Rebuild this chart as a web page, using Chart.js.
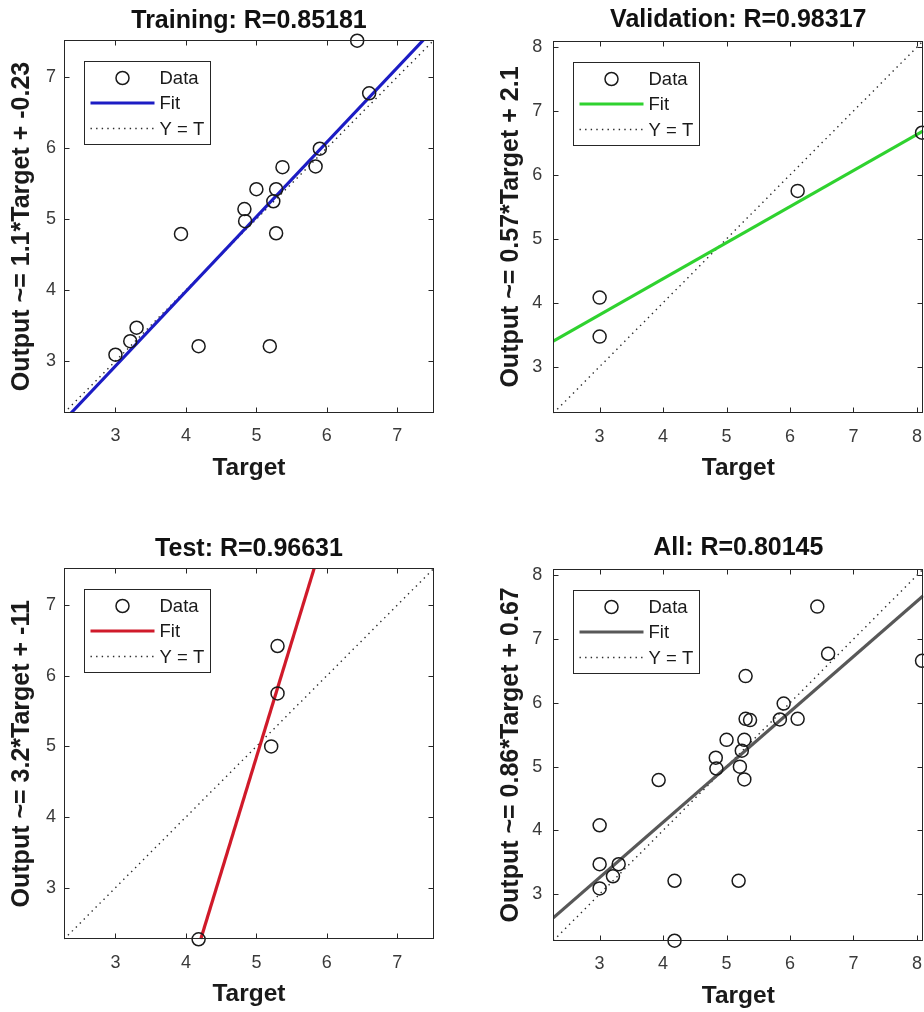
<!DOCTYPE html>
<html>
<head>
<meta charset="utf-8">
<script src="https://cdn.jsdelivr.net/npm/chart.js@4.4.1/dist/chart.umd.min.js"></script>
<style>
html,body{margin:0;padding:0;background:#fff;overflow:hidden;width:924px;height:1012px;}
canvas{position:absolute;}
</style>
</head>
<body>
<canvas id="c0" width="462" height="500" style="left:0px;top:0px"></canvas>
<canvas id="c1" width="480" height="500" style="left:462px;top:0px"></canvas>
<canvas id="c2" width="462" height="512" style="left:0px;top:500px"></canvas>
<canvas id="c3" width="480" height="512" style="left:462px;top:500px"></canvas>
<script>
// ---------------- DATA ----------------
const trainTarget = [6.43, 6.60, 5.90, 5.84, 5.37, 5.00, 5.28, 5.24, 4.83, 4.84, 5.28, 3.93, 3.30, 3.21, 3.00, 4.18, 5.19];
const trainOutput = [7.51, 6.77, 5.99, 5.74, 5.73, 5.42, 5.42, 5.25, 5.14, 4.97, 4.80, 4.79, 3.47, 3.28, 3.09, 3.21, 3.21];
const valTarget   = [3.00, 3.00, 6.12, 8.08];
const valOutput   = [4.08, 3.47, 5.75, 6.66];
const testTarget  = [5.30, 5.30, 5.21, 4.18];
const testOutput  = [6.42, 5.75, 5.00, 2.27];
const allTarget   = trainTarget.concat(valTarget, testTarget);
const allOutput   = trainOutput.concat(valOutput, testOutput);

// fit line end points
const trainFitT = [2.37, 7.37], trainFitO = [2.27, 7.52];
const valFitT   = [2.27, 8.10], valFitO   = [3.40, 6.69];
const testFitT  = [4.21, 5.82], testFitO  = [2.27, 7.52];
const allFitT   = [2.27, 8.10], allFitO   = [2.63, 7.68];

// axis limits and tick labels
const leftLimits  = [2.27, 7.52];
const rightLimits = [2.27, 8.10];
const leftTicks   = [3, 4, 5, 6, 7];
const rightTicks  = [3, 4, 5, 6, 7, 8];

const titles  = ['Training: R=0.85181', 'Validation: R=0.98317', 'Test: R=0.96631', 'All: R=0.80145'];
const yLabels = ['Output ~= 1.1*Target + -0.23', 'Output ~= 0.57*Target + 2.1', 'Output ~= 3.2*Target + -11', 'Output ~= 0.86*Target + 0.67'];
const xLabel  = 'Target';
const legendLabels = ['Data', 'Fit', 'Y = T'];

// ---------------- STYLE / LAYOUT ----------------
const FAM = '"Liberation Sans", Arial, Helvetica, sans-serif';
const panels = [
  { id:'c0', T:trainTarget, O:trainOutput, fT:trainFitT, fO:trainFitO, lim:leftLimits,  ticks:leftTicks,  color:'#1c1cc4',
    pad:{left:0,right:28,top:0,bottom:17}, tPad:{top:6.3,bottom:3.7}, yW:64, yTitlePad:7.5, yTickPad:8 },
  { id:'c1', T:valTarget, O:valOutput, fT:valFitT, fO:valFitO, lim:rightLimits, ticks:rightTicks, color:'#2fd22f',
    pad:{left:0,right:18.7,top:0,bottom:16.7}, tPad:{top:5,bottom:5.7}, yW:91.3, yTitlePad:33.8, yTickPad:11 },
  { id:'c2', T:testTarget, O:testOutput, fT:testFitT, fO:testFitO, lim:leftLimits,  ticks:leftTicks,  color:'#d01a2a',
    pad:{left:0,right:28,top:0,bottom:2.7}, tPad:{top:33.7,bottom:4.6}, yW:64, yTitlePad:7.5, yTickPad:8 },
  { id:'c3', T:allTarget, O:allOutput, fT:allFitT, fO:allFitO, lim:rightLimits, ticks:rightTicks, color:'#585858',
    pad:{left:0,right:18.7,top:0,bottom:1.3}, tPad:{top:33,bottom:6}, yW:91.3, yTitlePad:33.8, yTickPad:11 }
];

function pts(xs, ys){ return xs.map((x,i)=>({x:x, y:ys[i]})); }

const boxPlugin = {
  id:'matBox',
  afterDatasetsDraw(chart){
    const ctx = chart.ctx, a = chart.chartArea, xs = chart.scales.x, ys = chart.scales.y;
    ctx.save();
    ctx.strokeStyle = '#262626';
    ctx.lineWidth = 1;
    const L = Math.round(a.left)+0.5, R = Math.round(a.right)-0.5, Tp = Math.round(a.top)+0.5, B = Math.round(a.bottom)-0.5;
    ctx.strokeRect(L, Tp, R-L, B-Tp);
    const tl = 5;
    ctx.beginPath();
    xs.ticks.forEach(t=>{
      const p = Math.round(xs.getPixelForValue(t.value))+0.5;
      ctx.moveTo(p, B); ctx.lineTo(p, B-tl);
      ctx.moveTo(p, Tp); ctx.lineTo(p, Tp+tl);
    });
    ys.ticks.forEach(t=>{
      const p = Math.round(ys.getPixelForValue(t.value))+0.5;
      ctx.moveTo(L, p); ctx.lineTo(L+tl, p);
      ctx.moveTo(R, p); ctx.lineTo(R-tl, p);
    });
    ctx.stroke();
    ctx.restore();
  }
};

function legendPlugin(){
  return {
    id:'matLegend',
    afterDraw(chart){
      const ctx = chart.ctx, a = chart.chartArea, ds = chart.data.datasets;
      const bx = Math.round(a.left + 20) + 0.5, by = Math.round(a.top + 21) + 0.5, bw = 126, bh = 83;
      ctx.save();
      ctx.fillStyle = '#ffffff';
      ctx.fillRect(bx, by, bw, bh);
      ctx.strokeStyle = '#262626';
      ctx.lineWidth = 1;
      ctx.strokeRect(bx, by, bw, bh);
      const rows = [by + 16.5, by + 41.5, by + 67];
      // Data marker
      ctx.beginPath();
      ctx.lineWidth = ds[0].borderWidth;
      ctx.strokeStyle = ds[0].borderColor;
      ctx.arc(bx + 38, rows[0], ds[0].pointRadius, 0, Math.PI*2);
      ctx.stroke();
      // Fit line
      ctx.beginPath();
      ctx.lineWidth = ds[1].borderWidth;
      ctx.strokeStyle = ds[1].borderColor;
      ctx.moveTo(bx + 6, rows[1]); ctx.lineTo(bx + 70, rows[1]);
      ctx.stroke();
      // Y = T line
      ctx.beginPath();
      ctx.lineWidth = ds[2].borderWidth;
      ctx.strokeStyle = ds[2].borderColor;
      ctx.setLineDash(ds[2].borderDash);
      ctx.moveTo(bx + 6, rows[2]); ctx.lineTo(bx + 70, rows[2]);
      ctx.stroke();
      ctx.setLineDash([]);
      ctx.fillStyle = '#1a1a1a';
      ctx.font = '18.5px ' + FAM;
      ctx.textBaseline = 'middle';
      ctx.textAlign = 'left';
      for (let i = 0; i < 3; i++) ctx.fillText(ds[i].label, bx + 75, rows[i] + 1);
      ctx.restore();
    }
  };
}

panels.forEach((p, k) => {
  const idLine = pts([p.lim[0], p.lim[1]], [p.lim[0], p.lim[1]]);
  new Chart(document.getElementById(p.id), {
    type:'scatter',
    data:{
      datasets:[
        { label:legendLabels[0], data:pts(p.T, p.O), showLine:false, pointRadius:6.5, pointBorderWidth:1.5,
          borderWidth:1.5, borderColor:'#1a1a1a', pointBorderColor:'#1a1a1a', backgroundColor:'rgba(0,0,0,0)',
          pointBackgroundColor:'rgba(0,0,0,0)', clip:false },
        { label:legendLabels[1], data:pts(p.fT, p.fO), showLine:true, pointRadius:0, borderWidth:3.2,
          borderColor:p.color, backgroundColor:p.color, fill:false },
        { label:legendLabels[2], data:idLine, showLine:true, pointRadius:0, borderWidth:1.4,
          borderColor:'#2a2a2a', borderDash:[1.4, 4.2], fill:false }
      ]
    },
    options:{
      responsive:false, animation:false, events:[], devicePixelRatio:1,
      layout:{ padding:p.pad },
      plugins:{
        legend:{ display:false },
        tooltip:{ enabled:false },
        title:{ display:true, text:titles[k], fullSize:false, color:'#111111',
          font:{ size:25, weight:'bold', family:FAM, lineHeight:1.2 }, padding:p.tPad }
      },
      scales:{
        x:{ type:'linear', position:'bottom', min:p.lim[0], max:p.lim[1],
          afterBuildTicks:s=>{ s.ticks = p.ticks.map(v=>({value:v})); },
          afterFit:s=>{ s.height = 70; },
          grid:{ display:false, drawTicks:false }, border:{ display:false },
          ticks:{ padding:12.7, color:'#3a3a3a', font:{ size:18, family:FAM, lineHeight:1.2 }, maxRotation:0, autoSkip:false },
          title:{ display:true, text:xLabel, color:'#1a1a1a', font:{ size:24.5, weight:'bold', family:FAM, lineHeight:1.2 }, padding:{top:0,bottom:0} }
        },
        y:{ type:'linear', position:'left', min:p.lim[0], max:p.lim[1],
          afterBuildTicks:s=>{ s.ticks = p.ticks.map(v=>({value:v})); },
          afterFit:s=>{ s.width = p.yW; },
          grid:{ display:false, drawTicks:false }, border:{ display:false },
          ticks:{ padding:p.yTickPad, color:'#3a3a3a', font:{ size:18, family:FAM, lineHeight:1.2 }, autoSkip:false },
          title:{ display:true, text:yLabels[k], color:'#1a1a1a', font:{ size:25, weight:'bold', family:FAM, lineHeight:1.2 }, padding:{top:p.yTitlePad,bottom:0} }
        }
      }
    },
    plugins:[boxPlugin, legendPlugin()]
  });
});
</script>
</body>
</html>
